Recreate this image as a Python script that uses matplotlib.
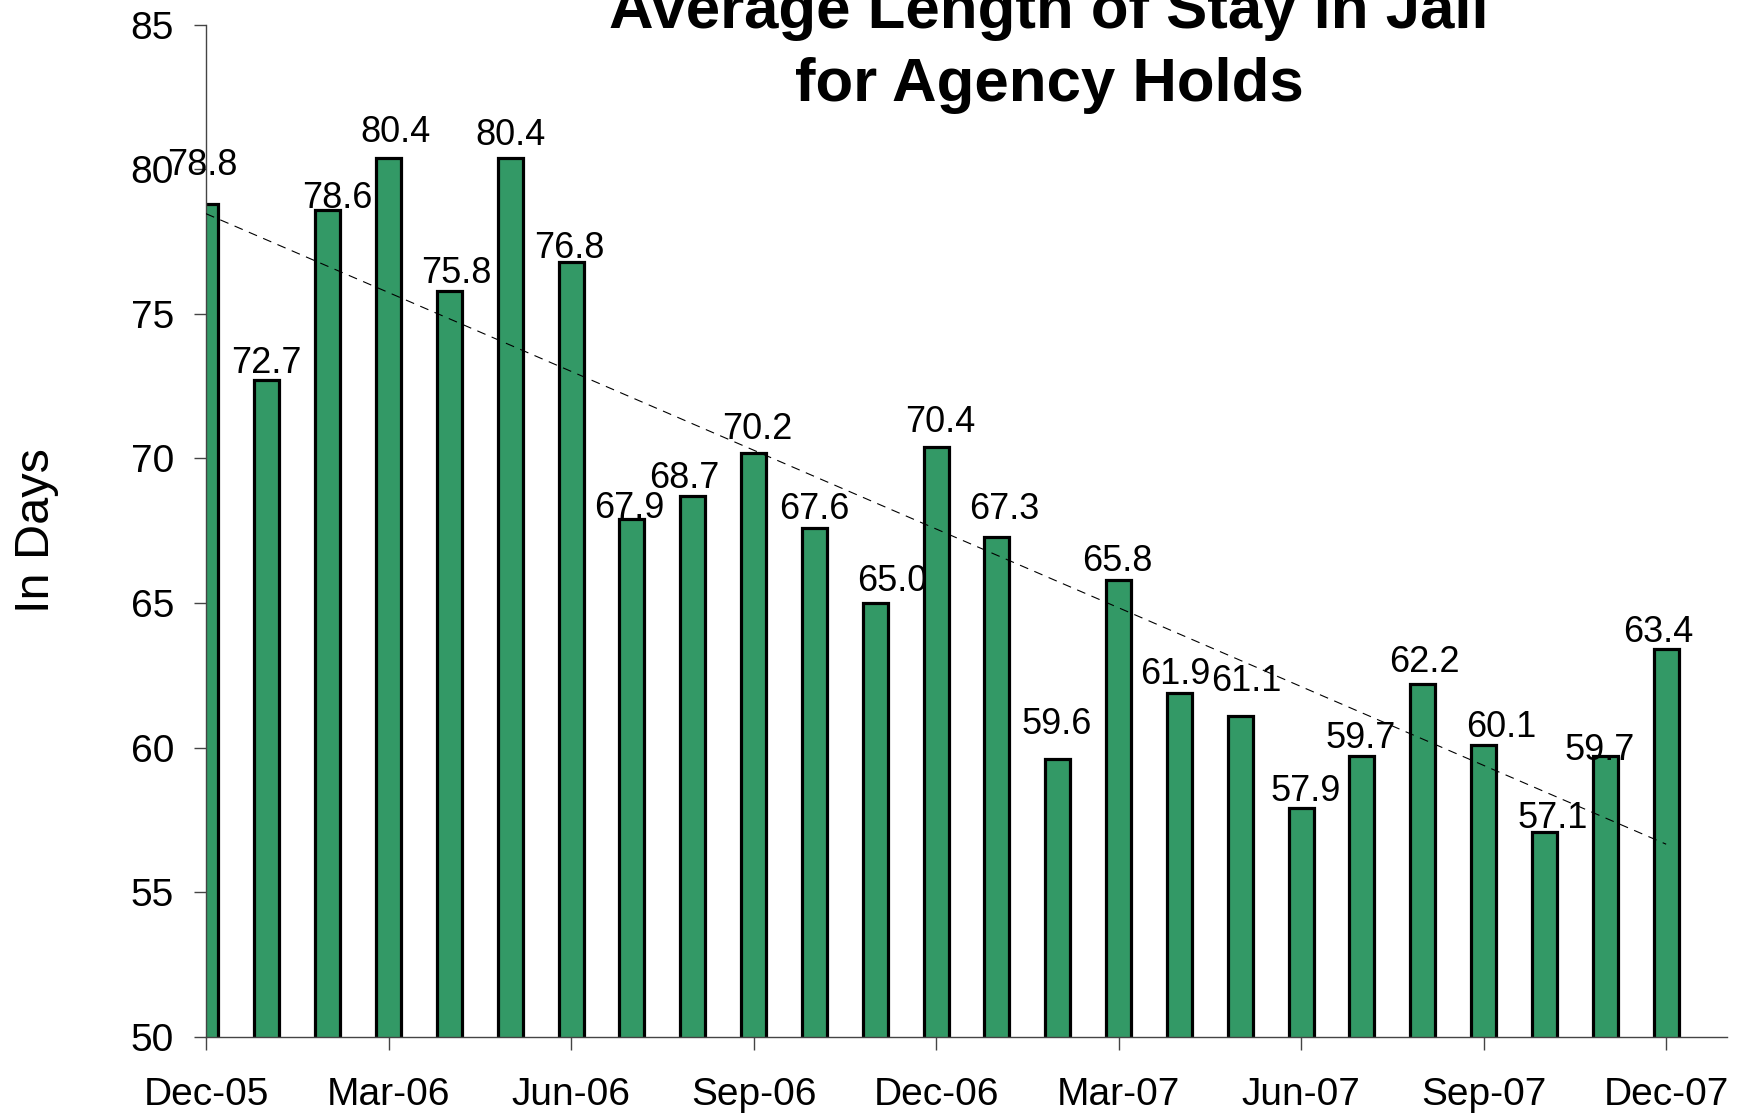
import numpy as np
import matplotlib
matplotlib.use("Agg")
import matplotlib.pyplot as plt

plt.rcParams['font.family'] = ['Liberation Sans', 'DejaVu Sans']

months = ["Dec-05", "Jan-06", "Feb-06", "Mar-06", "Apr-06", "May-06", "Jun-06",
          "Jul-06", "Aug-06", "Sep-06", "Oct-06", "Nov-06", "Dec-06", "Jan-07",
          "Feb-07", "Mar-07", "Apr-07", "May-07", "Jun-07", "Jul-07", "Aug-07",
          "Sep-07", "Oct-07", "Nov-07", "Dec-07"]
days = [78.8, 72.7, 78.6, 80.4, 75.8, 80.4, 76.8, 67.9, 68.7, 70.2, 67.6, 65.0,
        70.4, 67.3, 59.6, 65.8, 61.9, 61.1, 57.9, 59.7, 62.2, 60.1, 57.1, 59.7, 63.4]

# label nudges (points), to mimic where the original labels sit
lbl_dx = [-3, 0, 7, 5, 5, 0, -1, -2, -6, 3, 0, 12, 3, 5.6, -1, -1, -3, 4, 3, -1, 1, 13, 6, -4, -6]
lbl_dy = [21, 5.6, 1.6, 11, 5.6, 9, 3, 1, 5.6, 10, 6.4, 9, 11, 13, 18, 6.4, 6.4, 18, 5.6, 6.4, 9, 5.6, 2.4, -2.4, 5.6]

x = np.arange(len(days))

fig = plt.figure(figsize=(17.54, 11.15), dpi=100)
ax = fig.add_axes([206/1754, 78/1115, 1521/1754, 1012.4/1115])

ax.bar(x, days, width=0.41, bottom=0, color='#339966', edgecolor='black',
       linewidth=2.3, zorder=2)

# linear trend line
k, b = np.polyfit(x, days, 1)
ax.plot([x[0], x[-1]], [k*x[0] + b, k*x[-1] + b], color='black', lw=0.8,
        dashes=(8, 6), zorder=3)

for i, v in enumerate(days):
    ax.annotate(f"{v:.1f}", xy=(i, v), xytext=(lbl_dx[i], lbl_dy[i]),
                textcoords='offset points', ha='center', va='baseline',
                fontsize=26, zorder=4, annotation_clip=False)

ax.set_xlim(0, 25)
ax.set_ylim(50, 85)
ax.set_yticks(range(50, 86, 5))
ax.set_xticks(x[::3])
ax.set_xticklabels(months[::3])

ax.spines['top'].set_visible(False)
ax.spines['right'].set_visible(False)
for s in ['left', 'bottom']:
    ax.spines[s].set_color('#444444')
    ax.spines[s].set_linewidth(1.0)
ax.tick_params(axis='y', length=9, width=1, color='#444444', labelsize=28, pad=14)
ax.tick_params(axis='x', length=9, width=1, color='#444444', labelsize=28, pad=20)

ax.set_ylabel("In Days", fontsize=35)
ax.yaxis.set_label_coords(-147/1521, 0.5)

fig.text(1049/1754, 1 - 28/1115, "Average Length of Stay in Jail", ha='center',
         va='baseline', fontsize=44.5, fontweight='bold')
fig.text(1049/1754, 1 - 100.7/1115, "for Agency Holds", ha='center',
         va='baseline', fontsize=44.5, fontweight='bold')

fig.savefig("out.png", dpi=100)
